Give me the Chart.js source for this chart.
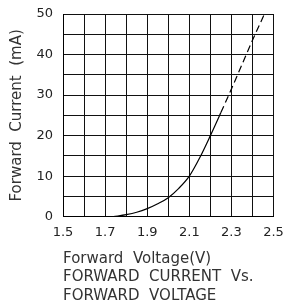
<!DOCTYPE html>
<html>
<head>
<meta charset="utf-8">
<script src="https://cdn.jsdelivr.net/npm/chart.js@4.4.1/dist/chart.umd.min.js"></script>
<style>
  html, body { margin: 0; padding: 0; background: #fff; }
  #wrap { width: 287px; height: 305px; }
</style>
</head>
<body>
<div id="wrap"><canvas id="c" width="287" height="305"></canvas></div>
<script>
const voltage = [1.74, 1.8, 1.85, 1.9, 1.95, 2.0, 2.05, 2.1, 2.15, 2.2, 2.25, 2.3, 2.35, 2.4, 2.457];
const current = [0, 0.5, 1.1, 2.0, 3.2, 4.7, 7.0, 10.0, 14.6, 20.0, 25.7, 31.5, 37.5, 43.5, 50.0];
const dashFrom = 2.25;
const xTickLabels = ['1.5', '1.7', '1.9', '2.1', '2.3', '2.5'];
const yTickLabels = ['0', '10', '20', '30', '40', '50'];
const yTitle = 'Forward  Current  (mA)';
const xTitle = ['Forward  Voltage(V)', 'FORWARD  CURRENT  Vs.', 'FORWARD  VOLTAGE'];

const points = voltage.map((v, i) => ({ x: v, y: current[i] }));
const FONT = 'DejaVu Sans';

new Chart(document.getElementById('c'), {
  type: 'line',
  data: {
    datasets: [{
      data: points,
      borderColor: '#000',
      borderWidth: 1.2,
      pointRadius: 0,
      fill: false,
      cubicInterpolationMode: 'monotone',
      segment: {
        borderDash: ctx => (ctx.p0.parsed.x >= dashFrom - 1e-9 ? [7, 4] : undefined)
      }
    }]
  },
  options: {
    responsive: false,
    animation: false,
    events: [],
    layout: { padding: { top: 14, right: 13.5, left: 0, bottom: 0 } },
    plugins: { legend: { display: false }, tooltip: { enabled: false } },
    scales: {
      x: {
        type: 'linear',
        min: 1.5, max: 2.5,
        afterFit: (s) => { s.paddingRight = 0; s.paddingLeft = 0; },
        ticks: {
          stepSize: 0.1,
          autoSkip: false,
          maxRotation: 0,
          padding: 4,
          color: '#222',
          font: { family: FONT, size: 13 },
          callback: (v) => {
            const s = (Math.round(v * 10) / 10).toFixed(1);
            return xTickLabels.includes(s) ? s : '';
          }
        },
        grid: { color: '#111', lineWidth: 1, drawTicks: true, tickLength: 4.5, tickColor: 'rgba(0,0,0,0)' },
        border: { color: '#000', width: 1 },
        title: {
          display: true,
          text: xTitle,
          align: 'start',
          color: '#333',
          font: { family: FONT, size: 15, lineHeight: 1.233 },
          padding: { top: 4.7, bottom: 0 }
        }
      },
      y: {
        type: 'linear',
        min: 0, max: 50,
        afterFit: (s) => { s.paddingTop = 0; s.paddingBottom = 0; },
        ticks: {
          stepSize: 5,
          autoSkip: false,
          padding: 5,
          color: '#222',
          font: { family: FONT, size: 13 },
          callback: (v) => {
            const s = String(Math.round(v));
            return yTickLabels.includes(s) ? s : '';
          }
        },
        grid: { color: '#111', lineWidth: 1, drawTicks: true, tickLength: 5, tickColor: 'rgba(0,0,0,0)' },
        border: { color: '#000', width: 1 },
        title: {
          display: true,
          text: yTitle,
          color: '#333',
          font: { family: FONT, size: 15, lineHeight: 1.2 },
          padding: { top: 8, bottom: 5.5 }
        }
      }
    }
  }
});
</script>
</body>
</html>
